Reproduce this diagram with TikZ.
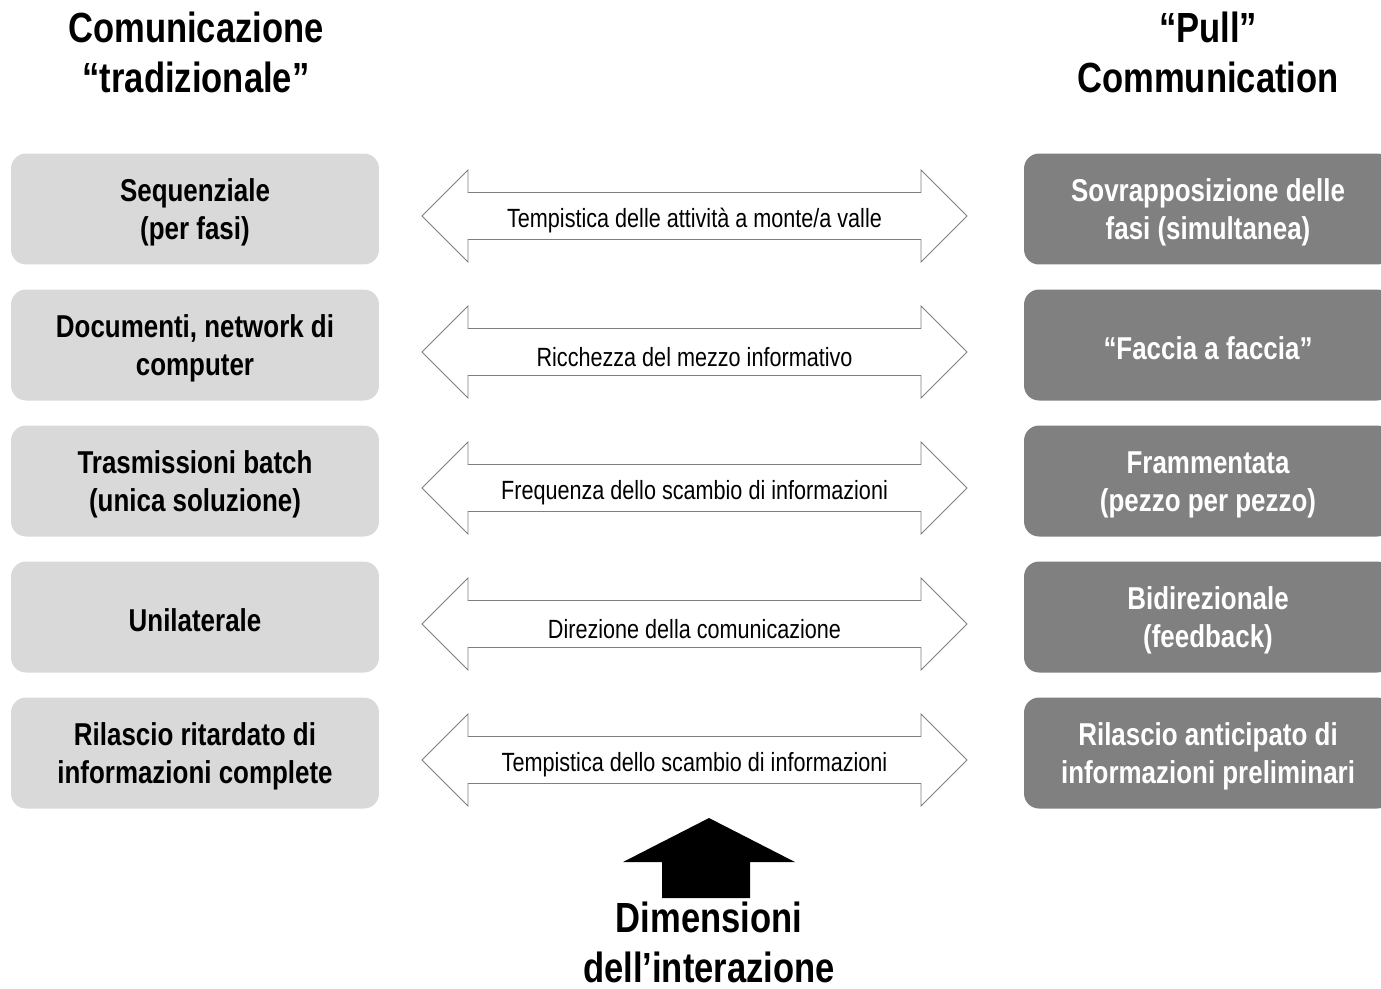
\documentclass[tikz,border=0pt]{standalone}
\usepackage{fontspec}
\setmainfont{Liberation Sans}[FakeStretch=0.82]
\usetikzlibrary{positioning}

\definecolor{lightbox}{HTML}{D9D9D9}
\definecolor{darkbox}{HTML}{808080}
\definecolor{arrowgray}{HTML}{7F7F7F}

\begin{document}
\begin{tikzpicture}[x=0.02cm, y=-0.02cm,
	every node/.style={align=center, inner sep=0pt},
	title/.style={font=\bfseries\fontsize{24}{28.5}\selectfont},
	leftbox/.style={fill=lightbox, rounded corners=0.3cm, minimum width=7.36cm, minimum height=2.22cm},
	rightbox/.style={leftbox, fill=darkbox},
	boxtext/.style={font=\bfseries\fontsize{18}{21.6}\selectfont},
	arrowlabel/.style={font=\fontsize{15}{18}\selectfont},
	arrowline/.style={draw=arrowgray, line width=0.5pt, fill=white}]

	\useasboundingbox (0,0) rectangle (1381,988);
	\clip (0,0) rectangle (1381,988);

	% titles
	\node [title] (TL) at (196,52) {Comunicazione\\“tradizionale”};
	\node [title] (TR) at (1208,52) {“Pull”\\Communication};

	% rows
	\foreach \y/\l/\m/\r [count=\i] in {
		209/{Sequenziale\\(per fasi)}/{Tempistica delle attività a monte/a valle}/{Sovrapposizione delle\\fasi (simultanea)},
		345/{Documenti, network di\\computer}/{Ricchezza del mezzo informativo}/{“Faccia a faccia”},
		481/{Trasmissioni batch\\(unica soluzione)}/{Frequenza dello scambio di informazioni}/{Frammentata\\(pezzo per pezzo)},
		617/{Unilaterale}/{Direzione della comunicazione}/{Bidirezionale\\(feedback)},
		753/{Rilascio ritardato di\\informazioni complete}/{Tempistica dello scambio di informazioni}/{Rilascio anticipato di\\informazioni preliminari}} {
		\node [leftbox] (L\i) at (195,\y) {};
		\node [boxtext] (LT\i) at (195,\y+3.5) {\l};
		\node [rightbox] (R\i) at (1208,\y) {};
		\node [boxtext, text=white] (RT\i) at (1208,\y+3.5) {\r};
		\draw [arrowline] (422,\y+7) -- (468,\y-39) -- (468,\y-16.5) -- (921,\y-16.5) -- (921,\y-39)
			-- (967,\y+7) -- (921,\y+53) -- (921,\y+30.5) -- (468,\y+30.5) -- (468,\y+53) -- cycle;
		\node [arrowlabel] (A\i) at (694.5,\y+12) {\m};
	}

	% bottom
	\fill (709,818) -- (795,862) -- (750,862) -- (750,898) -- (662,898) -- (662,862) -- (623,862) -- cycle;
	\node [title] (D) at (709,942) {Dimensioni\\dell’interazione};

\end{tikzpicture}
\end{document}
